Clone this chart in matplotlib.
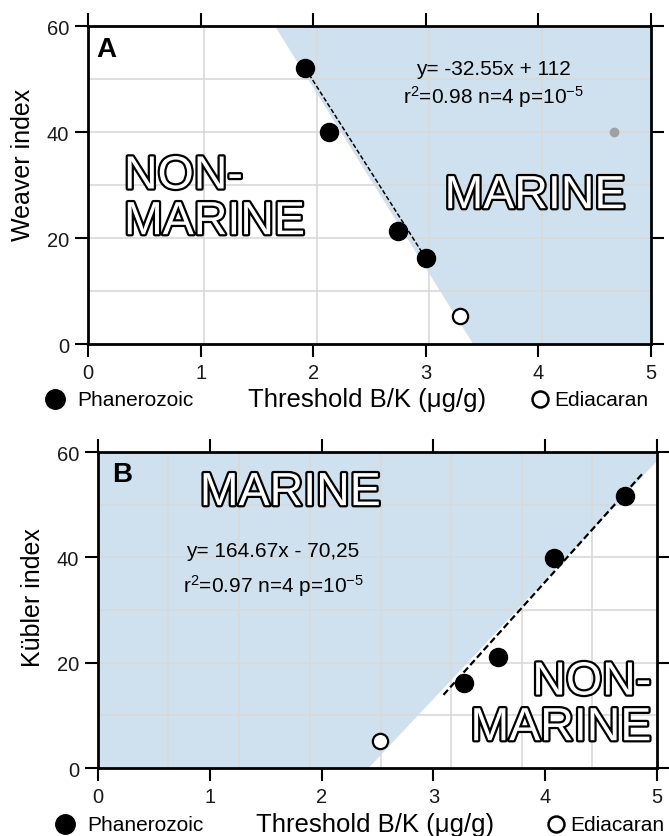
import matplotlib
matplotlib.use("Agg")
import matplotlib.pyplot as plt
import matplotlib.patheffects as pe

plt.rcParams['font.family'] = ['Liberation Sans', 'DejaVu Sans']
plt.rcParams['mathtext.fontset'] = 'custom'
plt.rcParams['mathtext.rm'] = 'Liberation Sans'

# panel A: Weaver index vs threshold B/K
weaver_phan_x = [1.93, 2.14, 2.75, 3.00]
weaver_phan_y = [52, 40, 21.3, 16.2]
weaver_edi_x = [3.30]
weaver_edi_y = [5.3]
weaver_stray_x = [4.67]
weaver_stray_y = [40]
weaver_fit_x = [1.93, 3.02]
weaver_fit_y = [52, 15.5]
weaver_marine_x = [1.66, 3.42, 5, 5]
weaver_marine_y = [60, 0, 0, 60]
weaver_grid_x = [1.03, 2.03, 3.03, 4.03]

# panel B: Kubler index vs threshold B/K
kubler_phan_x = [3.27, 3.58, 4.08, 4.71]
kubler_phan_y = [16.1, 21.0, 39.8, 51.7]
kubler_edi_x = [2.52]
kubler_edi_y = [5.2]
kubler_fit_x = [3.09, 4.87]
kubler_fit_y = [13.9, 55.9]
kubler_marine_x = [0, 2.42, 5, 5, 0]
kubler_marine_y = [0, 0, 58.3, 60, 60]
kubler_grid_x = [0.63, 1.26, 1.90, 2.53, 3.16, 3.79, 4.42]

grid_y = [10, 20, 30, 40, 50]
x_ticks = [0, 1, 2, 3, 4, 5]
y_ticks = [0, 20, 40, 60]

shade = '#cfe1ee'
grid_col = '#d9d9d9'
outline = [pe.Stroke(linewidth=3.2, foreground='black'), pe.Normal()]

fig = plt.figure(figsize=(6.69, 8.37), dpi=100)
axA = fig.add_axes([0.1315, 0.5878, 0.8416, 0.3799])
axB = fig.add_axes([0.1465, 0.0812, 0.8356, 0.3775])


def style_axes(ax, grid_x):
    ax.set_xlim(0, 5)
    ax.set_ylim(0, 60)
    ax.set_xticks(x_ticks)
    ax.set_yticks(y_ticks)
    ax.tick_params(direction='out', length=9.5, width=1.5, labelsize=14.5,
                   pad=4, top=True, right=True, labelcolor='#1a1a1a')
    for s in ax.spines.values():
        s.set_linewidth(2)
        s.set_zorder(6)
    for gx in grid_x:
        ax.axvline(gx, color=grid_col, lw=1.2, zorder=1)
    for gy in grid_y:
        ax.axhline(gy, color=grid_col, lw=1.2, zorder=1)


def legend_row(fy, dot_x, phan_x, open_x, edi_x):
    fig.lines.append(plt.Line2D([dot_x], [fy], transform=fig.transFigure,
                                marker='o', ms=14, color='black', ls='none'))
    fig.text(phan_x, fy, 'Phanerozoic', fontsize=15, va='center', ha='left')
    fig.lines.append(plt.Line2D([open_x], [fy], transform=fig.transFigure,
                                marker='o', ms=11.5, mfc='white', mec='black',
                                mew=1.8, ls='none'))
    fig.text(edi_x, fy, 'Ediacaran', fontsize=15, va='center', ha='left')


# ---- panel A
style_axes(axA, weaver_grid_x)
axA.fill(weaver_marine_x, weaver_marine_y, color=shade, lw=0, zorder=0)
axA.plot(weaver_fit_x, weaver_fit_y, color='black', lw=1.1, ls=(0, (3, 1.5)), zorder=3)
axA.plot(weaver_phan_x, weaver_phan_y, 'o', ms=13, color='black', zorder=4)
axA.plot(weaver_edi_x, weaver_edi_y, 'o', ms=11, mfc='white', mec='black', mew=1.6, zorder=4)
axA.plot(weaver_stray_x, weaver_stray_y, 'o', ms=6, color='#a0a0a0', zorder=4)
axA.text(0.07, 55.7, 'A', fontsize=20, fontweight='bold', va='center', ha='left')
axA.text(3.6, 50.9, 'y= -32.55x + 112', fontsize=15, ha='center', va='baseline')
axA.text(3.6, 45.6, r'r$\mathregular{^2}$=0.98 n=4 p=10$\mathregular{^{-5}}$',
         fontsize=15, ha='center', va='baseline')
axA.text(0.32, 27.3, 'NON-\nMARINE', fontsize=33.5, color='white', ha='left',
         va='center', linespacing=1.05, path_effects=outline, zorder=5)
axA.text(3.97, 27.9, 'MARINE', fontsize=33.5, color='white', ha='center',
         va='center', path_effects=outline, zorder=5)
axA.set_ylabel('Weaver index', fontsize=18, va='center')
axA.yaxis.set_label_coords(-0.116, 0.566)
axA.set_xlabel('Threshold B/K (\u03bcg/g)', fontsize=18.5, va='center')
axA.xaxis.set_label_coords(0.495, -0.173)
legend_row(0.522, 0.0816, 0.115, 0.807, 0.828)

# ---- panel B
style_axes(axB, kubler_grid_x)
axB.fill(kubler_marine_x, kubler_marine_y, color=shade, lw=0, zorder=0)
axB.plot(kubler_fit_x, kubler_fit_y, color='black', lw=1.6, ls=(0, (3, 1.5)), zorder=3)
axB.plot(kubler_phan_x, kubler_phan_y, 'o', ms=13, color='black', zorder=4)
axB.plot(kubler_edi_x, kubler_edi_y, 'o', ms=11, mfc='white', mec='black', mew=1.6, zorder=4)
axB.text(0.125, 55.8, 'B', fontsize=20, fontweight='bold', va='center', ha='left')
axB.text(0.79, 40.3, 'y= 164.67x - 70,25', fontsize=15, ha='left', va='baseline')
axB.text(0.76, 33.4, r'r$\mathregular{^2}$=0.97 n=4 p=10$\mathregular{^{-5}}$',
         fontsize=15, ha='left', va='baseline')
axB.text(1.72, 52.2, 'MARINE', fontsize=33.5, color='white', ha='center',
         va='center', path_effects=outline, zorder=5)
axB.text(4.95, 11.9, 'NON-\nMARINE', fontsize=33.5, color='white', ha='right',
         multialignment='right', va='center', linespacing=1.05,
         path_effects=outline, zorder=5)
axB.set_ylabel('K\u00fcbler index', fontsize=18, va='center')
axB.yaxis.set_label_coords(-0.116, 0.544)
axB.set_xlabel('Threshold B/K (\u03bcg/g)', fontsize=18.5, va='center')
axB.xaxis.set_label_coords(0.496, -0.177)
legend_row(0.0143, 0.0966, 0.130, 0.831, 0.852)

fig.savefig('out.png', dpi=100)
